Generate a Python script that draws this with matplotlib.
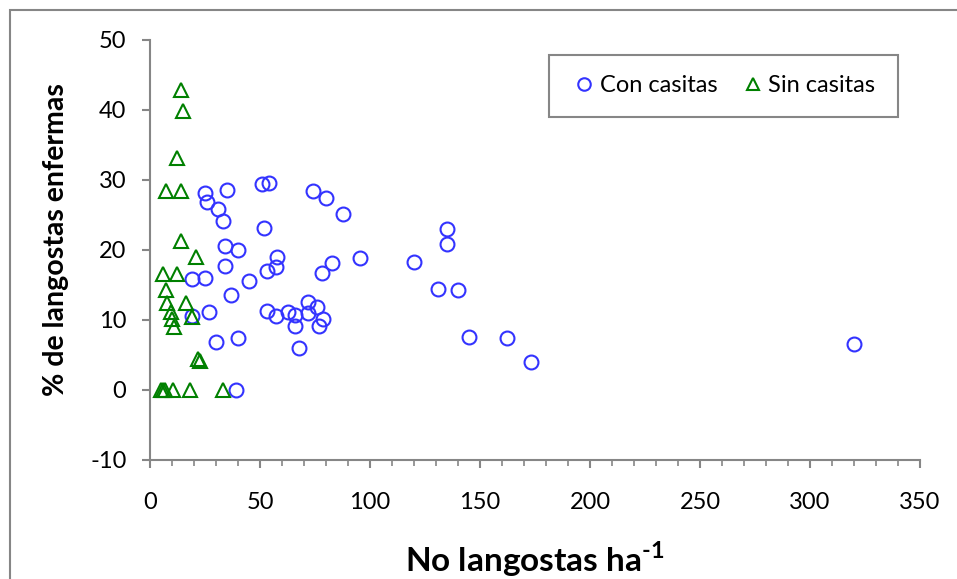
import matplotlib
matplotlib.use('Agg')
import matplotlib.pyplot as plt
from matplotlib.patches import Rectangle
from matplotlib.ticker import MultipleLocator

plt.rcParams['font.family'] = ['Lato', 'DejaVu Sans']
plt.rcParams['axes.unicode_minus'] = False
plt.rcParams['mathtext.fontset'] = 'custom'
plt.rcParams['mathtext.rm'] = 'Lato:bold'
plt.rcParams['mathtext.bf'] = 'Lato:bold'

# Con casitas (circulos)
con_x = [25, 26, 34.8, 31, 33, 50.8, 54.1, 74, 79.8, 87.9,
         52, 34.1, 39.8, 57.9, 82.9, 95.5, 34.1, 53, 57.1, 78,
         19, 25, 45, 36.8, 27, 19, 53, 57.1, 62.9, 65.9,
         72, 75.8, 72, 65.9, 78.8, 77, 67.9, 30, 39.9, 39.1,
         135.1, 135.1, 120, 131, 140.2, 145.2, 162.1, 173, 320.2]
con_y = [28.1, 26.9, 28.6, 25.9, 24.2, 29.4, 29.6, 28.4, 27.5, 25.1,
         23.1, 20.6, 20.0, 19.0, 18.1, 18.8, 17.7, 17.0, 17.6, 16.7,
         15.9, 16.0, 15.6, 13.6, 11.2, 10.6, 11.3, 10.6, 11.1, 10.7,
         12.6, 11.9, 11.0, 9.1, 10.1, 9.1, 6.0, 6.8, 7.5, 0,
         23.0, 20.8, 18.3, 14.5, 14.3, 7.6, 7.4, 4.0, 6.6]

# Sin casitas (triangulos)
sin_x = [14.1, 15.2, 12.1, 7.1, 14.1, 14.1, 21.0, 6.1, 12.1, 7.1,
         7.9, 16.2, 9.4, 10.2, 19.0, 10.9, 22.0, 22.7,
         5, 6, 7, 10.5, 18, 33]
sin_y = [42.8, 39.9, 33.2, 28.5, 28.5, 21.3, 19.0, 16.6, 16.6, 14.3,
         12.5, 12.5, 11.1, 10.2, 10.5, 9.0, 4.5, 4.2,
         0, 0, 0, 0, 0, 0]

fig = plt.figure(figsize=(9.57, 5.79), dpi=100)
ax = fig.add_axes([150/957, 1-460/579, 770/957, 420/579])

ax.plot(con_x, con_y, 'o', ms=10, mfc='none', mec='#3333ff', mew=1.5,
        label='Con casitas', clip_on=False)
ax.plot(sin_x, sin_y, '^', ms=10, mfc='none', mec='#008000', mew=1.5,
        label='Sin casitas', clip_on=False)

ax.set_xlim(0, 350)
ax.set_ylim(-10, 50)
ax.xaxis.set_major_locator(MultipleLocator(50))
ax.xaxis.set_minor_locator(MultipleLocator(10))
ax.yaxis.set_major_locator(MultipleLocator(10))

for s in ['top', 'right']:
    ax.spines[s].set_visible(False)
for s in ['left', 'bottom']:
    ax.spines[s].set_color('#868686')
    ax.spines[s].set_linewidth(1.5)

ax.tick_params(axis='both', which='major', length=6, width=1.5,
               color='#868686', labelsize=17, direction='out')
ax.tick_params(axis='y', pad=11)
ax.tick_params(axis='x', pad=17)
ax.tick_params(axis='x', which='minor', length=4, width=1.2,
               color='#868686', direction='out')

fig.text(56/957, 1-240/579, '% de langostas enfermas', fontsize=20.5,
         fontweight='bold', rotation=90, ha='center', va='center')
fig.text(535/957, 1-572/579, r'No langostas ha$^{\text{-1}}$', fontsize=24,
         fontweight='bold', ha='center', va='baseline')

leg = ax.legend(loc='center left', bbox_to_anchor=(575/957, 1-86/579),
                bbox_transform=fig.transFigure, ncol=2, fontsize=17,
                frameon=False, handletextpad=0.25, columnspacing=1.1,
                borderpad=0, borderaxespad=0, handlelength=0.8,
                markerscale=0.9)

# caja de la leyenda
fig.patches.append(Rectangle((549/957, 1-117/579), 349/957, 62/579,
                             transform=fig.transFigure, fill=False,
                             edgecolor='#868686', linewidth=1.5))

# borde del grafico
fig.patches.append(Rectangle((10/957, -0.1), 1.2, 1 - 10/579 + 0.1,
                             transform=fig.transFigure, fill=False,
                             edgecolor='#868686', linewidth=1.5))

fig.savefig('out.png', dpi=100)
